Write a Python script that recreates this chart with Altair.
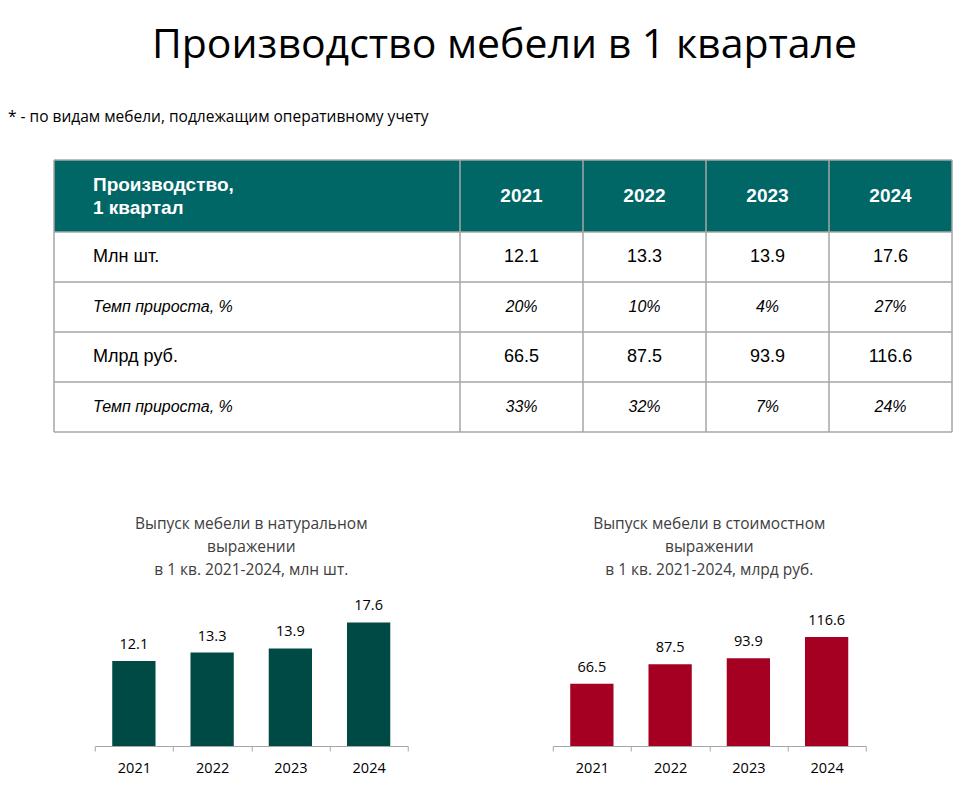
import altair as alt
import pandas as pd

# ---------------- data ----------------
years = ["2021", "2022", "2023", "2024"]
units_mln = [12.1, 13.3, 13.9, 17.6]
units_growth = [20, 10, 4, 27]
value_bln = [66.5, 87.5, 93.9, 116.6]
value_growth = [33, 32, 7, 24]

row_labels = ["Млн шт.", "Темп прироста, %", "Млрд руб.", "Темп прироста, %"]
header_lines = ["Производство,", "1 квартал"]

title_main = "Производство мебели в 1 квартале"
footnote = "* - по видам мебели, подлежащим оперативному учету"
chart1_title = ["Выпуск мебели в натуральном", "выражении", "в 1 кв. 2021-2024, млн шт."]
chart2_title = ["Выпуск мебели в стоимостном", "выражении", "в 1 кв. 2021-2024, млрд руб."]

# ---------------- style ----------------
TEAL = "#006666"
GREEN = "#004A45"
RED = "#A50021"
GRID = "#A6A6A6"
AXIS = "#A6A6A6"
TABLE_FONT = "Liberation Sans"
FONT = "Open Sans"

# table layout (pixels inside the table view)
TW, TH = 945, 272
T_LEFT = 46
FIRST_W = 406
COL_W = 123
HEADER_H = 72
ROW_H = 50
TEXT_X = 85

col_edges = [T_LEFT, T_LEFT + FIRST_W] + [T_LEFT + FIRST_W + COL_W * (i + 1) for i in range(4)]
row_edges = [0, HEADER_H] + [HEADER_H + ROW_H * (i + 1) for i in range(4)]
col_centers = [(col_edges[i + 1] + col_edges[i + 2]) / 2 for i in range(4)]
row_centers = [(row_edges[i + 1] + row_edges[i + 2]) / 2 for i in range(4)]

xs = alt.Scale(domain=[0, TW], nice=False, zero=False)
ys = alt.Scale(domain=[0, TH], nice=False, zero=False, reverse=True)

def X(f):
    return alt.X(f, type="quantitative", scale=xs, axis=None)

def Y(f):
    return alt.Y(f, type="quantitative", scale=ys, axis=None)

header_df = pd.DataFrame({"x": [col_edges[0]], "x2": [col_edges[-1]], "y": [0], "y2": [HEADER_H]})
header_rect = alt.Chart(header_df).mark_rect(color=TEAL).encode(
    x=X("x"), x2="x2", y=Y("y"), y2="y2")

hl_df = pd.DataFrame({"y": row_edges, "x": [col_edges[0]] * len(row_edges), "x2": [col_edges[-1]] * len(row_edges)})
hlines = alt.Chart(hl_df).mark_rule(color=GRID, strokeWidth=1.5).encode(x=X("x"), x2="x2", y=Y("y"))
vl_df = pd.DataFrame({"x": col_edges, "y": [0] * len(col_edges), "y2": [TH] * len(col_edges)})
vlines = alt.Chart(vl_df).mark_rule(color=GRID, strokeWidth=1.5).encode(x=X("x"), y=Y("y"), y2="y2")

hdr_text_df = pd.DataFrame({"t": header_lines, "x": [TEXT_X, TEXT_X], "y": [25, 48]})
hdr_text = alt.Chart(hdr_text_df).mark_text(
    align="left", baseline="middle", font=TABLE_FONT, fontSize=19, fontWeight="bold", color="white"
).encode(x=X("x"), y=Y("y"), text="t:N")

yr_df = pd.DataFrame({"t": years, "x": col_centers, "y": [HEADER_H / 2] * 4})
yr_text = alt.Chart(yr_df).mark_text(
    align="center", baseline="middle", font=TABLE_FONT, fontSize=19, fontWeight="bold", color="white"
).encode(x=X("x"), y=Y("y"), text="t:N")

rows = []
series = [
    [f"{v:.1f}" for v in units_mln],
    [f"{v}%" for v in units_growth],
    [f"{v:.1f}" for v in value_bln],
    [f"{v}%" for v in value_growth],
]
for ri, (lab, vals) in enumerate(zip(row_labels, series)):
    kind = "main" if ri % 2 == 0 else "growth"
    rows.append({"t": lab, "x": TEXT_X, "y": row_centers[ri], "kind": kind, "align": "left"})
    for ci, v in enumerate(vals):
        rows.append({"t": v, "x": col_centers[ci], "y": row_centers[ri], "kind": kind, "align": "center"})
cells = pd.DataFrame(rows)

def cell_layer(kind, align, size, style):
    return alt.Chart(cells).transform_filter(
        (alt.datum.kind == kind) & (alt.datum.align == align)
    ).mark_text(align=align, baseline="middle", font=TABLE_FONT, fontSize=size,
                fontStyle=style, color="black").encode(x=X("x"), y=Y("y"), text="t:N")

table = alt.layer(
    header_rect, hlines, vlines, hdr_text, yr_text,
    cell_layer("main", "left", 18, "normal"),
    cell_layer("main", "center", 18, "normal"),
    cell_layer("growth", "left", 16, "italic"),
    cell_layer("growth", "center", 16, "italic"),
).properties(
    width=TW, height=TH,
    title=alt.TitleParams(footnote, anchor="start", font=FONT, fontSize=15.5,
                          fontWeight="normal", color="black", offset=34),
)

# ---------------- bar charts ----------------
PLOT_H = 165

def bar_chart(values, color, domain_max, title):
    df = pd.DataFrame({"year": years, "value": values})
    base = alt.Chart(df).encode(
        x=alt.X("year:N", sort=years,
                scale=alt.Scale(paddingInner=0, paddingOuter=0),
                axis=alt.Axis(title=None, labelAngle=0, tickBand="extent", ticks=True, tickSize=5,
                              tickColor=AXIS, domainColor=AXIS, labelFont=FONT, labelFontSize=14.5,
                              labelColor="black", labelPadding=10, grid=False)),
        y=alt.Y("value:Q", scale=alt.Scale(domain=[0, domain_max], nice=False), axis=None),
    )
    bars = base.mark_bar(color=color, width=alt.RelativeBandSize(0.553))
    labels = base.mark_text(dy=-16, baseline="middle", font=FONT, fontSize=14.5, color="black").encode(
        text=alt.Text("value:Q", format=".1f"))
    return alt.layer(bars, labels).properties(
        width=313, height=PLOT_H,
        title=alt.TitleParams(title, font=FONT, fontSize=15.5, fontWeight="normal", color="#404040",
                              lineHeight=23, offset=3, anchor="middle"),
    )

bar1 = bar_chart(units_mln, GREEN, 23.5, chart1_title)
bar2 = bar_chart(value_bln, RED, 176.5, chart2_title)

bars_row = alt.hconcat(bar1, bar2, spacing=143)

chart = alt.vconcat(table, bars_row, spacing=83, center=True).properties(
    title=alt.TitleParams(title_main, font=FONT, fontSize=41, fontWeight="normal", color="black",
                          anchor="middle", dx=24, offset=43),
    padding={"top": 16, "left": 0, "right": 0, "bottom": 0},
).configure_view(stroke=None)

chart.save("out.html", embed_options={"renderer": "svg", "actions": False})
